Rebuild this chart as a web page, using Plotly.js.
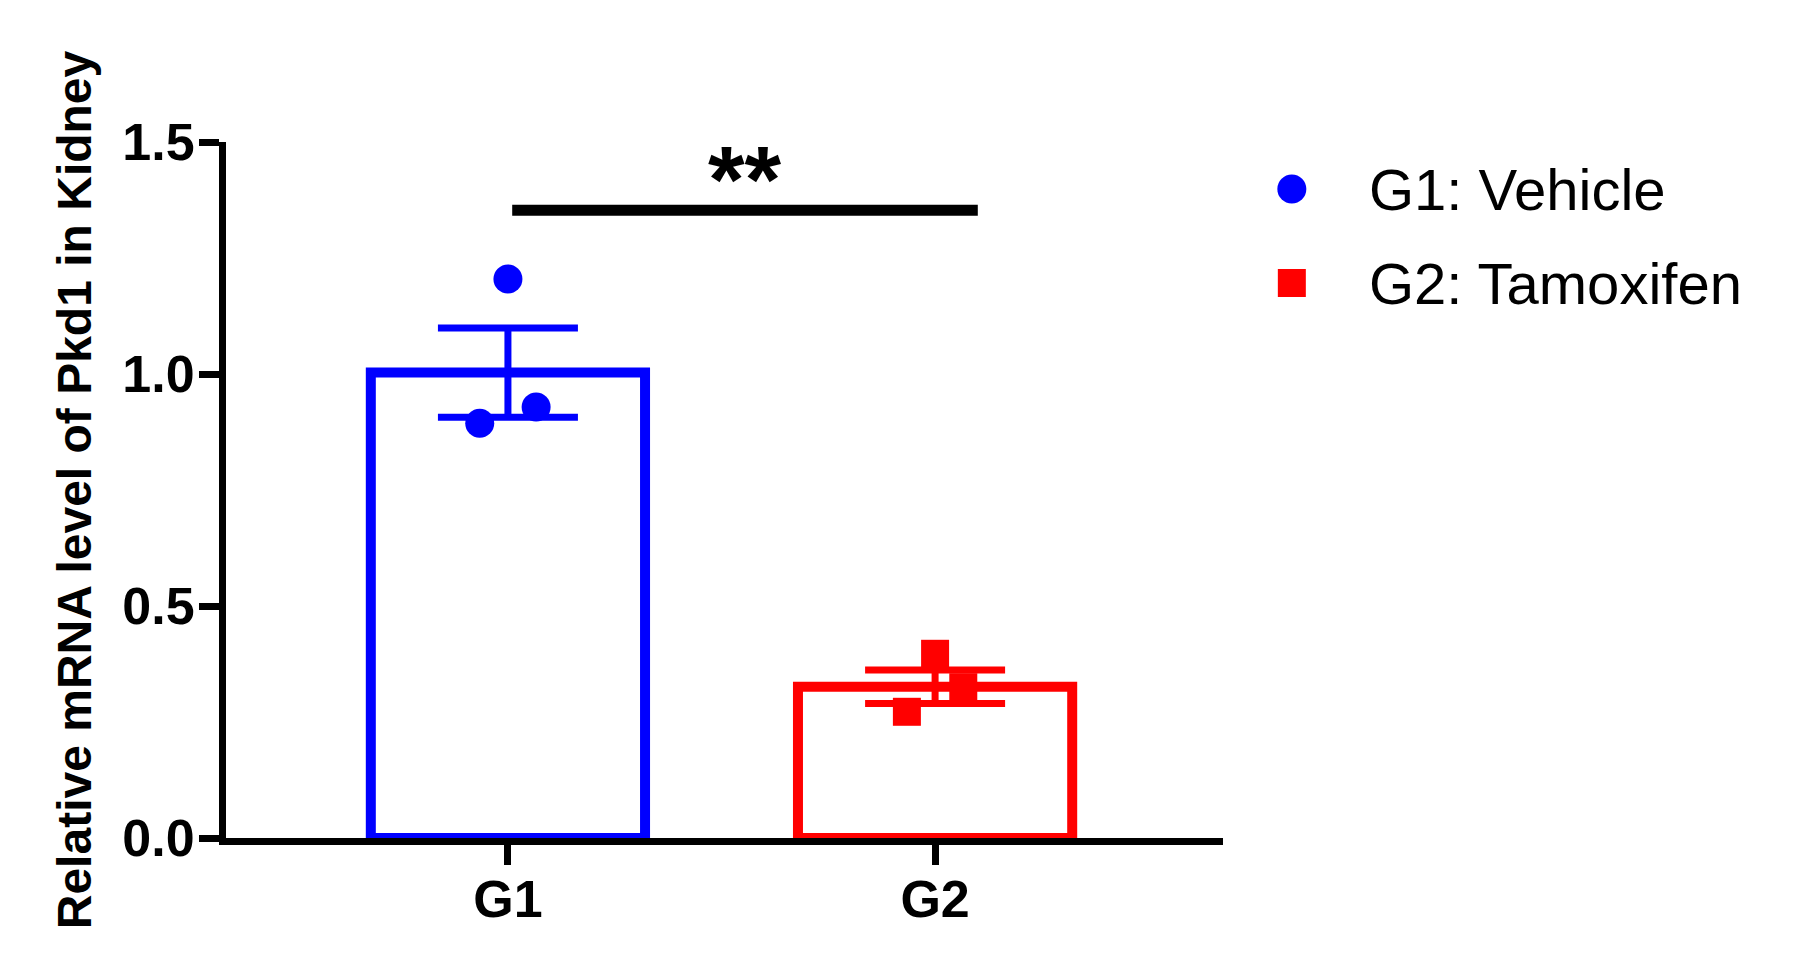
<!DOCTYPE html>
<html>
<head>
<meta charset="utf-8">
<script src="https://cdn.plot.ly/plotly-3.0.1.min.js"></script>
<style>
    html, body { margin: 0; padding: 0; background: #fff; }
    #chart { width: 1796px; height: 980px; }
</style>
</head>
<body>
<div id="chart"></div>
<script>
// groups and summary values
const categories = ['G1', 'G2']
const groupColors = ['#0000FF', '#FF0000']
const groupMeans = [1.003, 0.326]
const groupSem = [0.096, 0.036]

// individual animals
const g1Values = [0.894, 1.205, 0.929]
const g1Jitter = [-0.066, 0, 0.066]
const g2Values = [0.272, 0.397, 0.325]
const g2Jitter = [-0.066, 0, 0.066]

// legend
const legendLabels = ['G1: Vehicle', 'G2: Tamoxifen']
const legendSymbols = ['circle', 'square']

const sigLabel = '**'
const sigLevel = 1.353

const font_family = 'Liberation Sans, Arial, sans-serif'

function bar_trace() {
    return {
        type: 'bar',
        x: [0, 1],
        y: groupMeans,
        width: 0.642,
        marker: {
            color: 'rgba(255,255,255,0)',
            line: { color: groupColors, width: 10 }
        },
        showlegend: false
    }
}

// error bar colour cannot be an array, so one trace per group
function error_trace(i) {
    return {
        type: 'scatter',
        mode: 'markers',
        x: [i],
        y: [groupMeans[i]],
        marker: { size: 1, color: 'rgba(0,0,0,0)' },
        error_y: {
            type: 'data',
            array: [groupSem[i]],
            visible: true,
            thickness: 7,
            width: 70,
            color: groupColors[i]
        },
        showlegend: false
    }
}

function points_trace(values, jitter, idx, symbol, size) {
    return {
        type: 'scatter',
        mode: 'markers',
        x: values.map((v, i) => idx + jitter[i]),
        y: values,
        marker: { symbol: symbol, size: size, color: groupColors[idx], opacity: 1, line: { width: 0 } },
        showlegend: false
    }
}

function legend_trace() {
    return {
        type: 'scatter',
        mode: 'markers',
        xaxis: 'x2',
        yaxis: 'y2',
        x: legendLabels.map(() => 0.065),
        y: legendLabels.map((l, i) => i),
        marker: {
            symbol: legendSymbols,
            size: [29, 28],
            color: groupColors,
            opacity: 1,
            line: { width: 0 }
        },
        showlegend: false
    }
}

const traces = [
    bar_trace(),
    error_trace(0),
    error_trace(1),
    points_trace(g1Values, g1Jitter, 0, 'circle', 29),
    points_trace(g2Values, g2Jitter, 1, 'square', 28),
    legend_trace()
]

const annotations = legendLabels.map((label, i) => ({
    xref: 'x2', yref: 'y2',
    x: 0.223, y: i,
    xanchor: 'left', yanchor: 'middle',
    text: label,
    showarrow: false,
    font: { family: font_family, size: 58, color: '#000' }
}))

annotations.push({
    xref: 'x', yref: 'y',
    x: 0.555, y: 1.42,
    xanchor: 'center', yanchor: 'middle',
    text: sigLabel,
    showarrow: false,
    font: { family: font_family, size: 94, color: '#000', weight: 'bold' }
})

Plotly.newPlot('chart', traces, {
    width: 1796,
    height: 980,
    paper_bgcolor: '#fff',
    plot_bgcolor: '#fff',
    showlegend: false,
    margin: { l: 226, r: 60, t: 142, b: 142, pad: 0 },
    xaxis: {
        domain: [0, 0.66026],
        range: [-0.660, 1.674],
        tickvals: [0, 1],
        ticktext: categories,
        ticks: 'outside',
        ticklen: 20,
        tickwidth: 7,
        tickcolor: '#000',
        showline: true,
        linewidth: 7,
        linecolor: '#000',
        showgrid: false,
        zeroline: false,
        tickfont: { family: font_family, size: 52, color: '#000', weight: 'bold' },
        ticklabelstandoff: -10,
        fixedrange: true
    },
    yaxis: {
        range: [0, 1.5],
        tickvals: [0, 0.5, 1.0, 1.5],
        tickformat: '.1f',
        ticks: 'outside',
        ticklen: 20,
        tickwidth: 7,
        tickcolor: '#000',
        showline: true,
        linewidth: 7,
        linecolor: '#000',
        showgrid: false,
        zeroline: false,
        tickfont: { family: font_family, size: 52, color: '#000', weight: 'bold' },
        ticklabelstandoff: -6,
        title: {
            text: 'Relative mRNA level of Pkd1 in Kidney',
            font: { family: font_family, size: 48, color: '#000', weight: 'bold' },
            standoff: 18
        },
        fixedrange: true
    },
    xaxis2: {
        domain: [0.6854, 1],
        range: [0, 1],
        visible: false,
        fixedrange: true
    },
    yaxis2: {
        anchor: 'x2',
        range: [6.904, -0.5],
        visible: false,
        fixedrange: true
    },
    shapes: [{
        type: 'line',
        xref: 'x', yref: 'y',
        x0: 0.01, x1: 1.10,
        y0: sigLevel, y1: sigLevel,
        line: { color: '#000', width: 11 }
    }],
    annotations: annotations
}, { displayModeBar: false, staticPlot: true })
</script>
</body>
</html>
